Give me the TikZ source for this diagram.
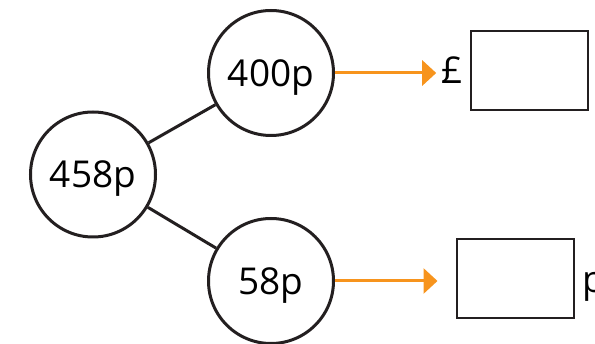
\documentclass[tikz,border=0pt]{standalone}
\usepackage{fontspec}
\setmainfont{Open Sans}
\usepackage{tikz}
\usetikzlibrary{arrows.meta}
\definecolor{darkline}{HTML}{231F20}
\definecolor{arroworange}{HTML}{F7941D}
\tikzstyle{amount} = [draw=darkline, line width=3pt, circle, minimum size=125pt, inner sep=0pt, text depth=0pt]
\tikzstyle{line} = [draw=darkline, line width=3pt]
\tikzstyle{arrow} = [draw=arroworange, line width=3pt, -{Triangle[length=14pt,width=25pt]}]
\tikzstyle{answerbox} = [draw=darkline, line width=2pt, minimum width=117pt, minimum height=79pt, inner sep=0pt]

\begin{document}
\begin{tikzpicture}[x=1pt, y=-1pt, font=\fontsize{37}{44}\selectfont]
	\useasboundingbox (0, 0) rectangle (595, 344);

	% nodes
	\node[amount] (whole) at (93, 174.5) {458p};
	\node[amount] (pounds) at (271, 73) {400p};
	\node[amount] (pence) at (271, 281) {58p};
	\node[inner sep=2pt] (pound) at (452, 70.5) {£};
	\node[answerbox] (box1) at (529.5, 70.5) {};
	\node[answerbox] (box2) at (515, 279) {};
	\node[anchor=base west, inner sep=0pt] (p) at (582, 293) {p};

	% lines
	\draw [line] (whole) -- (pounds);
	\draw [line] (whole) -- (pence);

	% arrows
	\draw [arrow, shorten >=3pt] (pounds.east) -- (pounds.east -| pound.west);
	\draw [arrow, shorten >=18pt] (pence.east) -- (pence.east -| box2.west);

\end{tikzpicture}
\end{document}
